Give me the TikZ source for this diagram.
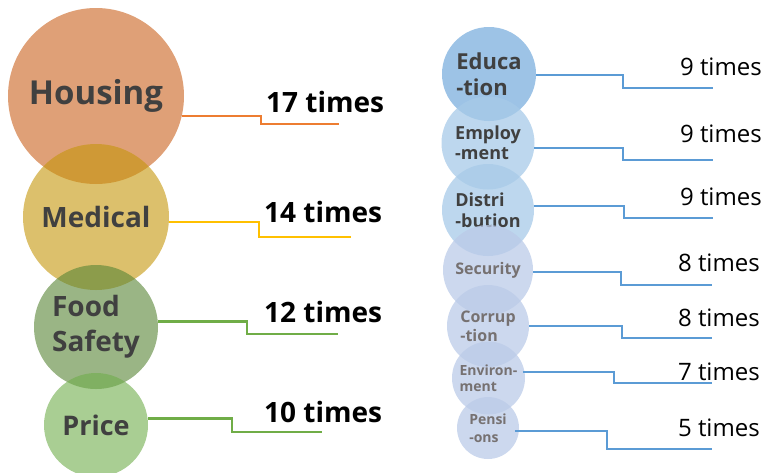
\documentclass[tikz,border=0pt]{standalone}
\usepackage{fontspec}
\setmainfont{Open Sans}
\definecolor{txtdark}{RGB}{64,64,64}
\definecolor{txtgray}{RGB}{118,113,113}
\definecolor{fhous}{RGB}{202,97,28}
\definecolor{fmed}{RGB}{197,150,10}
\definecolor{ffood}{RGB}{87,132,52}
\definecolor{fprice}{RGB}{112,173,75}
\definecolor{fedu}{RGB}{124,175,222}
\definecolor{femp}{RGB}{167,202,232}
\definecolor{fsec}{RGB}{187,203,232}
\definecolor{lorange}{RGB}{237,125,49}
\definecolor{lgold}{RGB}{255,192,0}
\definecolor{lgreen}{RGB}{112,173,71}
\definecolor{lblue}{RGB}{91,155,213}
\newcommand{\fs}[1]{\fontsize{#1}{#1}\selectfont}
\begin{document}
\begin{tikzpicture}[x=1pt,y=-1pt,
  bub/.style={circle, inner sep=0pt, fill opacity=0.6, text opacity=1, align=left, text=txtdark},
  rbub/.style={circle, inner sep=0pt, fill opacity=0.75, text opacity=1, align=left},
  lcnt/.style={line width=2.4pt},
  rcnt/.style={line width=1.8pt, draw=lblue},
  lnum/.style={anchor=west, inner sep=0pt, font=\fs{28}\bfseries},
  rnum/.style={anchor=east, inner sep=0pt, font=\fs{24}}]
\useasboundingbox (0,0) rectangle (762,472);
% left bubbles
\node[bub, fill=fhous, minimum size=176pt, font=\fs{33}\bfseries] (housing) at (96,96) {Housing};
\node[bub, fill=fmed, minimum size=146pt, font=\fs{28}\bfseries] (medical) at (96,217) {Medical};
\node[bub, fill=ffood, minimum size=124pt, font={\fontsize{28}{35}\selectfont\bfseries}] (food) at (96,327) {Food\\Safety};
\node[bub, fill=fprice, minimum size=104pt, font=\fs{27}\bfseries] (price) at (96,425) {Price};
% right bubbles
\node[rbub, fill=fedu, minimum size=94pt, text=txtdark, font={\fontsize{22}{26}\selectfont\bfseries}] (edu) at (489,74) {Educa\\-tion};
\node[rbub, fill=femp, minimum size=93pt, text=txtdark, font={\fontsize{18}{20}\selectfont\bfseries}] (emp) at (488,143) {Employ\\-ment};
\node[rbub, fill=femp, minimum size=92pt, text=txtdark, font={\fontsize{18}{21}\selectfont\bfseries}] (dist) at (488,210) {Distri\\-bution};
\node[rbub, fill=fsec, minimum size=90pt, text=txtgray, font=\fs{16}\bfseries] (sec) at (488,270) {Security};
\node[rbub, fill=fsec, minimum size=82pt, text=txtgray, font={\fontsize{16}{19}\selectfont\bfseries}] (corr) at (488,326) {Corrup\\-tion};
\node[rbub, fill=fsec, minimum size=73pt, text=txtgray, font={\fontsize{14}{16}\selectfont\bfseries}] (env) at (488.5,378) {Environ-\\ment};
\node[rbub, fill=fsec, minimum size=62pt, text=txtgray, font={\fontsize{14}{18}\selectfont\bfseries}] (pens) at (488,428) {Pensi\\-ons};
% left numbers
\node[lnum] (n1) at (266,102) {17 times};
\node[lnum] (n2) at (264,212) {14 times};
\node[lnum] (n3) at (264,312) {12 times};
\node[lnum] (n4) at (264,412) {10 times};
% right numbers
\node[rnum] (r1) at (762,67) {9 times};
\node[rnum] (r2) at (762,134) {9 times};
\node[rnum] (r3) at (762,197) {9 times};
\node[rnum] (r4) at (760,263) {8 times};
\node[rnum] (r5) at (760,318) {8 times};
\node[rnum] (r6) at (760,372) {7 times};
\node[rnum] (r7) at (760,428) {5 times};
% left connectors
\coordinate (s1) at (261,0); \coordinate (e1) at (339,124);
\coordinate (s2) at (259,0); \coordinate (e2) at (351,237);
\coordinate (s3) at (247,0); \coordinate (e3) at (338,334);
\coordinate (s4) at (232,0); \coordinate (e4) at (322,432);
\draw[lcnt, draw=lorange] (housing.-13) -- (housing.-13 -| s1) |- (e1);
\draw[lcnt, draw=lgold] (medical.-4) -- (medical.-4 -| s2) |- (e2);
\draw[lcnt, draw=lgreen] (food.5) -- (food.5 -| s3) |- (e3);
\draw[lcnt, draw=lgreen] (price.7) -- (price.7 -| s4) |- (e4);
% right connectors
\coordinate (t1) at (623,0); \coordinate (f1) at (713,88);
\coordinate (t2) at (623,0); \coordinate (f2) at (713,160);
\coordinate (t3) at (624,0); \coordinate (f3) at (713,218);
\coordinate (t4) at (621,0); \coordinate (f4) at (712,285);
\coordinate (t5) at (622,0); \coordinate (f5) at (712,338);
\coordinate (t6) at (614,0); \coordinate (f6) at (712,383);
\coordinate (t7) at (607,0); \coordinate (f7) at (712,449);
\coordinate (b6) at ([xshift=-2pt]env.9);
\coordinate (b7) at ([xshift=-4pt]pens.-6);
\draw[rcnt] (edu.-1) -- (edu.-1 -| t1) |- (f1);
\draw[rcnt] (emp.-6) -- (emp.-6 -| t2) |- (f2);
\draw[rcnt] (dist.5) -- (dist.5 -| t3) |- (f3);
\draw[rcnt] (sec.-3) -- (sec.-3 -| t4) |- (f4);
\draw[rcnt] (corr.0) -- (corr.0 -| t5) |- (f5);
\draw[rcnt] (b6) -- (b6 -| t6) |- (f6);
\draw[rcnt] (b7) -- (b7 -| t7) |- (f7);
\end{tikzpicture}
\end{document}
